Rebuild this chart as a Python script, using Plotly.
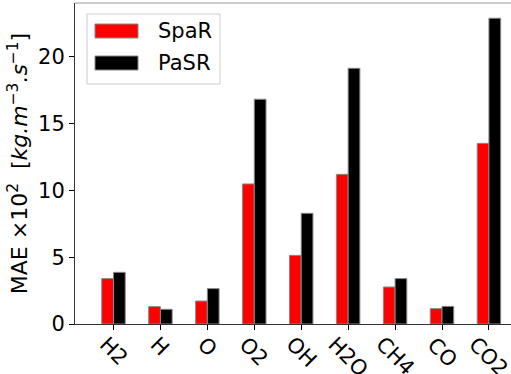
import plotly.graph_objects as go

species = ["H2", "H", "O", "O2", "OH", "H2O", "CH4", "CO", "CO2"]
spar = [3.40, 1.30, 1.72, 10.49, 5.14, 11.21, 2.77, 1.15, 13.53]
pasr = [3.87, 1.10, 2.65, 16.83, 8.29, 19.15, 3.40, 1.32, 22.90]
series_names = ["SpaR", "PaSR"]
series_colors = ["red", "black"]

x = list(range(len(species)))
bw = 0.25

fig = go.Figure()
for k, (name, vals, col) in enumerate(zip(series_names, [spar, pasr], series_colors)):
    off = -bw / 2 if k == 0 else bw / 2
    fig.add_trace(go.Bar(x=[i + off for i in x], y=vals, width=bw, name=name,
                         marker=dict(color=col, line=dict(color="#888888", width=1)),
                         showlegend=False))

W, H = 511, 374
ml, mr, mt, mb = 75, 0, 3, 50

fig.update_layout(
    width=W, height=H,
    margin=dict(l=ml, r=mr, t=mt, b=mb, autoexpand=False),
    paper_bgcolor="white", plot_bgcolor="white",
    font=dict(family="DejaVu Sans", size=21, color="black"),
    barmode="overlay",
    xaxis=dict(range=[-0.82, 8.47], tickmode="array", tickvals=x, ticktext=[""] * len(x),
               ticks="outside", ticklen=5, tickcolor="black",
               showline=True, linecolor="#333333", linewidth=1, mirror=False,
               showgrid=False, zeroline=False, automargin=False),
    yaxis=dict(range=[0, 24.04], tickvals=[0, 5, 10, 15, 20], ticks="outside",
               ticklen=5, tickcolor="black", showline=True, linecolor="#333333",
               linewidth=1, mirror=True, showgrid=False, zeroline=False, automargin=False,
               tickfont=dict(size=21),
               title=dict(text="MAE ×10<sup>2</sup>  [<i>kg.m</i><sup>−3</sup><i>.s</i><sup>−1</sup>]",
                          font=dict(size=22), standoff=4)),
)
fig.add_shape(type="line", xref="paper", yref="paper", x0=0, x1=1, y0=1, y1=1,
              line=dict(color="#999999", width=1))

pw, ph = W - ml - mr, H - mt - mb
def px(xp):
    return (xp - ml) / pw
def py(yp):
    return 1 - (yp - mt) / ph

# rotated category labels
for i, lab in zip(x, species):
    fig.add_annotation(x=i, xref="x", y=py(331), yref="paper", text=lab, showarrow=False,
                       textangle=45, xanchor="center", yanchor="top", font=dict(size=21),
                       borderpad=0)

# custom legend
fig.add_shape(type="rect", xref="paper", yref="paper", x0=px(87), x1=px(220), y0=py(84), y1=py(14),
              line=dict(color="#cccccc", width=1), fillcolor="rgba(255,255,255,0.8)", layer="above")
for k, (name, col) in enumerate(zip(series_names, series_colors)):
    yc = 31 + k * 32
    fig.add_shape(type="rect", xref="paper", yref="paper", x0=px(95), x1=px(138),
                  y0=py(yc + 7), y1=py(yc - 7), fillcolor=col,
                  line=dict(color="#888888", width=1), layer="above")
    fig.add_annotation(xref="paper", yref="paper", x=px(156), y=py(yc), text=name,
                       showarrow=False, xanchor="left", yanchor="middle", font=dict(size=21))

fig.write_html("out.html")
